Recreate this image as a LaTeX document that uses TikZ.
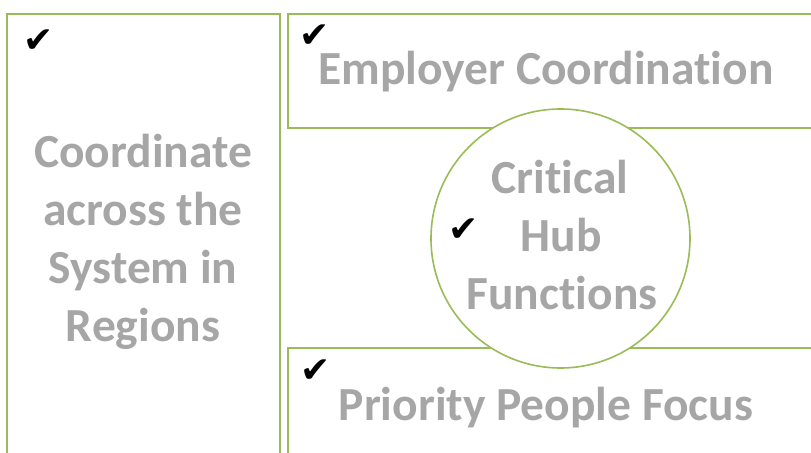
\documentclass[tikz,border=0pt]{standalone}
\usepackage{fontspec}
\setmainfont{Carlito}[Ligatures=NoCommon]
\newfontfamily\symfont{DejaVu Sans}
\definecolor{leafgreen}{HTML}{9BBB59}
\definecolor{labelgray}{HTML}{A6A6A6}
\tikzset{
  panel/.style={draw=leafgreen, line width=2bp},
  hub/.style={draw=leafgreen, line width=1.6bp, fill=white},
  heading/.style={text=labelgray, font=\fontsize{47.5bp}{58bp}\selectfont\bfseries, anchor=base, inner sep=0pt},
  tick/.style={font=\symfont\fontsize{36bp}{36bp}\selectfont, text=black, inner sep=0pt, anchor=center}
}
\begin{document}
\begin{tikzpicture}[x=1bp, y=-1bp]
  \useasboundingbox (0,0) rectangle (811,453);
  \clip (0,0) rectangle (811,453);

  % three panels
  \draw[panel] (7,14) rectangle (280,480);
  \draw[panel] (288,14) rectangle (830,128);
  \draw[panel] (288,348) rectangle (830,480);

  % hub circle in the middle
  \node[hub, circle, minimum size=259bp, inner sep=0pt] (hubc) at (560.5,238.5) {};

  % left panel
  \node[tick] (t1) at (39,41) {✔};
  \node[heading] (l1) at (143,168) {Coordinate};
  \node[heading] (l2) at (143,226) {across the};
  \node[heading] (l3) at (143,284) {System in};
  \node[heading] (l4) at (143,342) {Regions};

  % top right panel
  \node[tick] (t2) at (315,36) {✔};
  \node[heading] (e1) at (546,85) {Employer Coordination};

  % hub text
  \node[tick] (t3) at (464,230) {✔};
  \node[heading] (c1) at (560,194) {Critical};
  \node[heading] (c2) at (561,252) {Hub};
  \node[heading] (c3) at (562,310) {Functions};

  % bottom right panel
  \node[tick] (t4) at (316,371) {✔};
  \node[heading] (p1) at (546,420) {Priority People Focus};
\end{tikzpicture}
\end{document}
